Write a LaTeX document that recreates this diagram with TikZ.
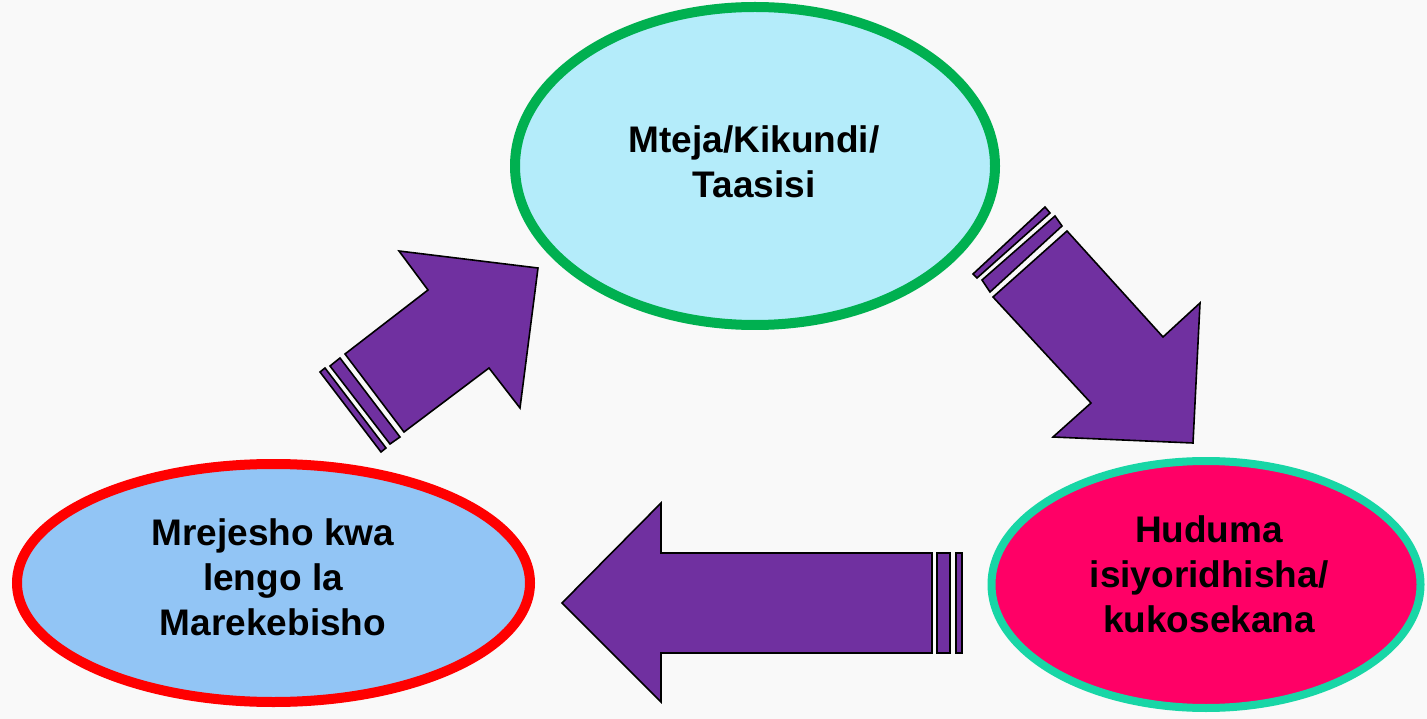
\documentclass[tikz,border=0pt]{standalone}
\usepackage{fontspec}
\setmainfont{Liberation Sans}
\usetikzlibrary{shapes.geometric}
\definecolor{bg}{RGB}{249,249,249}
\definecolor{purp}{RGB}{112,48,160}
\definecolor{topfill}{RGB}{180,236,250}
\definecolor{topline}{RGB}{0,176,80}
\definecolor{leftfill}{RGB}{146,197,245}
\definecolor{rightfill}{RGB}{255,0,102}
\definecolor{rightline}{RGB}{24,214,166}
\tikzset{
  bubble/.style={ellipse, inner sep=0pt, outer sep=0pt},
  label text/.style={font=\bfseries\fontsize{37}{45}\selectfont, align=center, text=black, inner sep=0pt},
  blockarrow/.style={fill=purp, draw=black, line width=1.6pt, line join=miter},
}
\begin{document}
\begin{tikzpicture}[x=1pt,y=-1pt]
\fill[bg] (0,0) rectangle (1427,719);
\useasboundingbox (0,0) rectangle (1427,719);

% ellipses
\node[bubble, draw=topline, fill=topfill, line width=10pt, minimum width=480pt, minimum height=318pt] (top) at (755,166) {};
\node[bubble, draw=red, fill=leftfill, line width=10pt, minimum width=513pt, minimum height=238pt] (left) at (273.5,583) {};
\node[bubble, draw=rightline, fill=rightfill, line width=8pt, minimum width=429pt, minimum height=247pt] (right) at (1206,584.5) {};

% texts
\node[label text] (ttop) at (754,162) {Mteja/Kikundi/\\Taasisi};
\node[label text] (tleft) at (273,577) {Mrejesho kwa\\lengo la\\Marekebisho};
\node[label text] (tright) at (1209,574) {Huduma\\isiyoridhisha/\\kukosekana};

% up-right arrow (left -> top)
\draw[blockarrow] (345,354) -- (428,290) -- (399,251) -- (538,268) -- (520,408) -- (489,368) -- (404,432) -- cycle;
\draw[blockarrow] (330,366) -- (340,358) -- (400,437) -- (390,444) -- cycle;
\draw[blockarrow] (320,372) -- (325,368) -- (386,448) -- (381,452) -- cycle;

% down-right arrow (top -> right)
\draw[blockarrow] (993,297) -- (1067,231) -- (1163,337) -- (1200,303) -- (1193,443) -- (1053,437) -- (1091,403) -- cycle;
\draw[blockarrow] (982,280) -- (1055,216) -- (1062,226) -- (990,292) -- cycle;
\draw[blockarrow] (973,274) -- (1045,207) -- (1050,213) -- (977,278) -- cycle;

% left arrow (right -> left)
\draw[blockarrow] (562,603) -- (661,503) -- (661,553) -- (932,553) -- (932,653) -- (661,653) -- (661,702) -- cycle;
\draw[blockarrow] (937,553) rectangle (950,653);
\draw[blockarrow] (956,553) rectangle (962,653);
\end{tikzpicture}
\end{document}
